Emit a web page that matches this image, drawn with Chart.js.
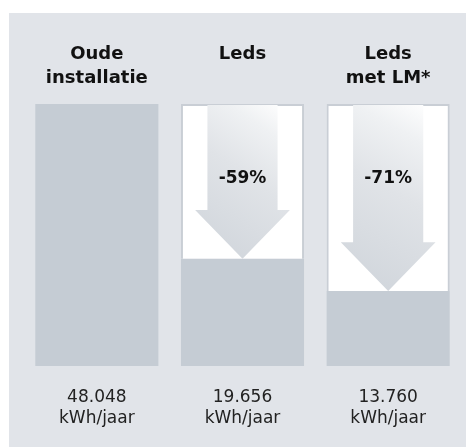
<!DOCTYPE html>
<html>
<head>
<meta charset="utf-8">
<script src="https://cdn.jsdelivr.net/npm/chart.js@4"></script>
<style>
  html, body { margin: 0; padding: 0; background: #ffffff; }
  #wrap { width: 466px; height: 448px; }
</style>
</head>
<body>
<div id="wrap"><canvas id="verbruik" width="466" height="448"></canvas></div>
<script>
// categorieen (bovenste labels)
const categorieen = [['Oude', 'installatie'], ['Leds', ''], ['Leds', 'met LM*']];
// verbruik in kWh/jaar
const verbruik = [48048, 19656, 13760];
// onderste labels
const verbruikLabels = [['48.048', 'kWh/jaar'], ['19.656', 'kWh/jaar'], ['13.760', 'kWh/jaar']];
// besparing t.o.v. oude installatie
const besparing = ['', '-59%', '-71%'];

const achtergrond = '#e1e4e9';
const balkKleur = '#c5ccd4';

// paneel achter de grafiek
const paneelPlugin = {
    id: 'paneel',
    beforeDraw(chart) {
        const ctx = chart.ctx;
        ctx.save();
        ctx.fillStyle = achtergrond;
        ctx.fillRect(9, 13, chart.width - 9, chart.height - 14);
        ctx.restore();
    }
};

// pijlen in de witte vakken
const pijlPlugin = {
    id: 'pijlen',
    afterDatasetsDraw(chart) {
        const ctx = chart.ctx;
        const meta = chart.getDatasetMeta(1);
        meta.data.forEach((bar, i) => {
            if (!besparing[i]) return;
            const p = bar.getProps(['x', 'y', 'base', 'width'], true);
            const boven = Math.min(p.y, p.base) + 1;
            const tip = Math.max(p.y, p.base);
            const schacht = p.width * 0.285;
            const kop = p.width * 0.385;
            const kopHoogte = kop * 1.03;
            const grad = ctx.createLinearGradient(p.x - kop, tip - 20, p.x + schacht + 10, boven);
            grad.addColorStop(0, '#d1d6dc');
            grad.addColorStop(0.5, '#e0e3e7');
            grad.addColorStop(0.8, '#eff1f3');
            grad.addColorStop(1, '#ffffff');
            ctx.save();
            ctx.fillStyle = grad;
            ctx.beginPath();
            ctx.moveTo(p.x - schacht, boven);
            ctx.lineTo(p.x + schacht, boven);
            ctx.lineTo(p.x + schacht, tip - kopHoogte);
            ctx.lineTo(p.x + kop, tip - kopHoogte);
            ctx.lineTo(p.x, tip);
            ctx.lineTo(p.x - kop, tip - kopHoogte);
            ctx.lineTo(p.x - schacht, tip - kopHoogte);
            ctx.closePath();
            ctx.fill();

            ctx.fillStyle = '#111111';
            ctx.font = 'bold 17px "DejaVu Sans"';
            ctx.textAlign = 'center';
            ctx.textBaseline = 'middle';
            ctx.fillText(besparing[i], p.x, boven + 74);
            ctx.restore();
        });
    }
};

new Chart(document.getElementById('verbruik'), {
    type: 'bar',
    data: {
        labels: categorieen,
        datasets: [{
            label: 'Verbruik',
            data: verbruik,
            backgroundColor: balkKleur,
            borderWidth: 0,
            grouped: false,
            order: 2
        }, {
            label: 'Besparing',
            data: verbruik.map((v, i) => i === 0 ? null : [v, verbruik[0]]),
            backgroundColor: '#ffffff',
            borderColor: '#c9ced5',
            borderWidth: { top: 2, left: 2, right: 2, bottom: 0 },
            borderSkipped: false,
            grouped: false,
            order: 1
        }]
    },
    options: {
        responsive: false,
        animation: false,
        devicePixelRatio: 1,
        layout: { padding: { left: 24, right: 5, top: 0, bottom: 0 } },
        plugins: {
            legend: { display: false },
            tooltip: { enabled: false }
        },
        datasets: {
            bar: { barPercentage: 0.845, categoryPercentage: 1 }
        },
        scales: {
            x: {
                position: 'bottom',
                grid: { display: false, drawTicks: false },
                border: { display: false },
                ticks: {
                    padding: 21,
                    color: '#222222',
                    maxRotation: 0,
                    autoSkip: false,
                    font: { family: '"DejaVu Sans"', size: 17, lineHeight: 1.24 },
                    callback: (v, i) => verbruikLabels[i]
                },
                afterFit: (s) => { s.height = 82; }
            },
            x2: {
                position: 'top',
                labels: categorieen,
                grid: { display: false, drawTicks: false },
                border: { display: false },
                ticks: {
                    padding: 13,
                    color: '#111111',
                    maxRotation: 0,
                    autoSkip: false,
                    font: { family: '"DejaVu Sans"', size: 18, weight: 'bold', lineHeight: 1.36 }
                },
                afterFit: (s) => { s.height = 104; }
            },
            y: {
                display: false,
                min: 0,
                max: verbruik[0]
            }
        }
    },
    plugins: [paneelPlugin, pijlPlugin]
});
</script>
</body>
</html>
